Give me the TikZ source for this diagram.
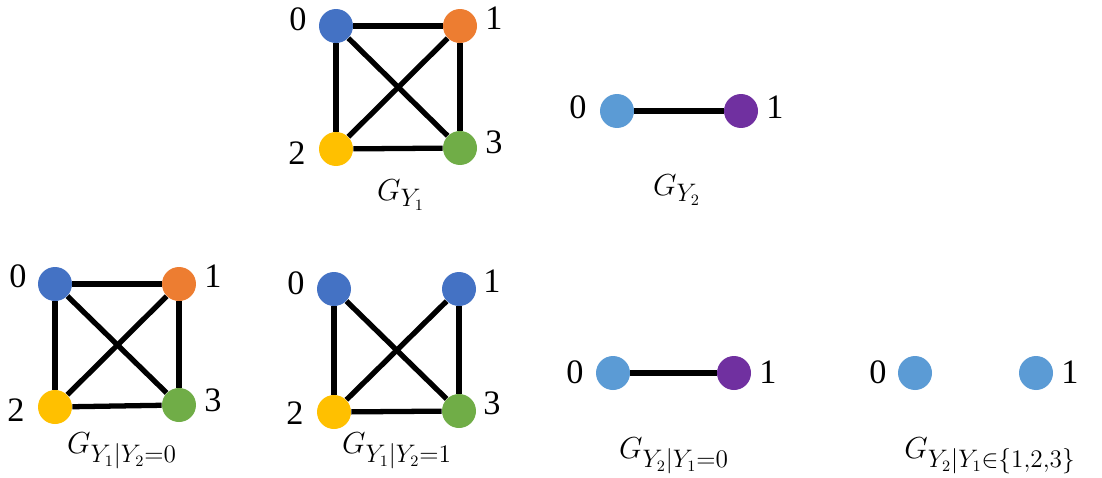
\documentclass[tikz,border=0pt]{standalone}
\usepackage{fontspec}
\setmainfont{Liberation Serif}
\usetikzlibrary{positioning}
\definecolor{GraphBlue}{RGB}{68,114,196}
\definecolor{GraphOrange}{RGB}{237,125,49}
\definecolor{GraphYellow}{RGB}{255,192,0}
\definecolor{GraphGreen}{RGB}{112,173,71}
\definecolor{GraphSky}{RGB}{91,155,213}
\definecolor{GraphPurple}{RGB}{112,48,160}

\begin{document}
\begin{tikzpicture}[x=0.02cm, y=-0.02cm]
    \tikzstyle{v}=[circle, minimum size=0.68cm, inner sep=0pt]
    \tikzstyle{e}=[line width=3pt, black]
    \tikzstyle{num}=[font=\fontsize{19.5}{22}\selectfont, inner sep=0pt]
    \tikzstyle{gname}=[font=\fontsize{19}{23}\selectfont, inner sep=0pt]
    \useasboundingbox (0,0) rectangle (1102,477);

    % G_{Y_1}
    \node[v, fill=GraphBlue] (a0) at (336,26) {};
    \node[v, fill=GraphOrange] (a1) at (460,26) {};
    \node[v, fill=GraphYellow] (a2) at (336,149) {};
    \node[v, fill=GraphGreen] (a3) at (460,148) {};
    \node[num] (la0) at (298,19) {0};
    \node[num] (la1) at (494,18) {1};
    \node[num] (la2) at (297,153) {2};
    \node[num] (la3) at (494,142) {3};
    \node[gname] (ca) at (401,195) {$G_{Y_1}$};
    \foreach \s/\t in {0/1, 0/2, 1/3, 2/3, 0/3, 1/2}
        \draw[e] (a\s) -- (a\t);

    % G_{Y_2}
    \node[v, fill=GraphSky] (b0) at (617,111) {};
    \node[v, fill=GraphPurple] (b1) at (741,111) {};
    \node[num] (lb0) at (578,107) {0};
    \node[num] (lb1) at (775,107) {1};
    \node[gname] (cb) at (677,190) {$G_{Y_2}$};
    \draw[e] (b0) -- (b1);

    % G_{Y_1|Y_2=0}
    \node[v, fill=GraphBlue] (c0) at (55,284) {};
    \node[v, fill=GraphOrange] (c1) at (179,284) {};
    \node[v, fill=GraphYellow] (c2) at (55,407) {};
    \node[v, fill=GraphGreen] (c3) at (179,405) {};
    \node[num] (lc0) at (18,276) {0};
    \node[num] (lc1) at (213,276) {1};
    \node[num] (lc2) at (16,410) {2};
    \node[num] (lc3) at (213,400) {3};
    \node[gname] (cc) at (122,451) {$G_{Y_1|Y_2=0}$};
    \foreach \s/\t in {0/1, 0/2, 1/3, 2/3, 0/3, 1/2}
        \draw[e] (c\s) -- (c\t);

    % G_{Y_1|Y_2=1}
    \node[v, fill=GraphBlue] (d0) at (334,289) {};
    \node[v, fill=GraphBlue] (d1) at (459,289) {};
    \node[v, fill=GraphYellow] (d2) at (334,412) {};
    \node[v, fill=GraphGreen] (d3) at (459,411) {};
    \node[num] (ld0) at (296,283) {0};
    \node[num] (ld1) at (492,281) {1};
    \node[num] (ld2) at (295,413) {2};
    \node[num] (ld3) at (492,403) {3};
    \node[gname] (cd) at (397,451) {$G_{Y_1|Y_2=1}$};
    \foreach \s/\t in {0/2, 1/3, 2/3, 0/3, 1/2}
        \draw[e] (d\s) -- (d\t);

    % G_{Y_2|Y_1=0}
    \node[v, fill=GraphSky] (f0) at (613,373) {};
    \node[v, fill=GraphPurple] (f1) at (734,373) {};
    \node[num] (lf0) at (575,372) {0};
    \node[num] (lf1) at (768,372) {1};
    \node[gname] (cf) at (674,456) {$G_{Y_2|Y_1=0}$};
    \draw[e] (f0) -- (f1);

    % G_{Y_2|Y_1 in {1,2,3}}
    \node[v, fill=GraphSky] (g0) at (915,373) {};
    \node[v, fill=GraphSky] (g1) at (1036,373) {};
    \node[num] (lg0) at (878,372) {0};
    \node[num] (lg1) at (1070,372) {1};
    \node[gname] (cg) at (990,456) {$G_{Y_2|Y_1\in\{1,2,3\}}$};
\end{tikzpicture}
\end{document}
